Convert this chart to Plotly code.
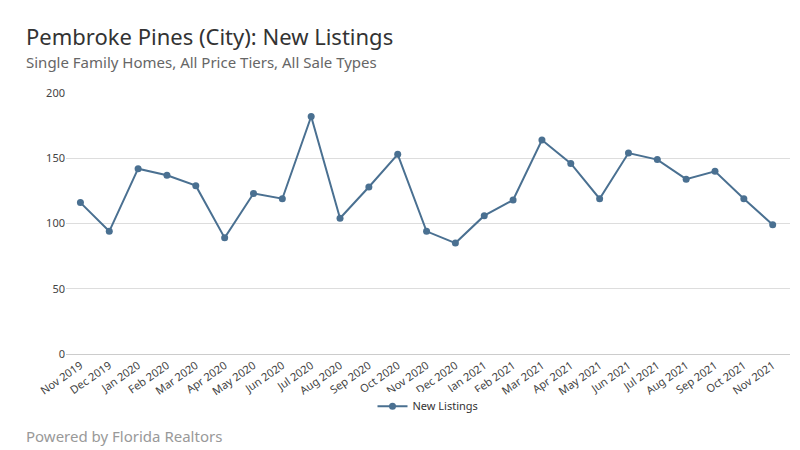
import plotly.graph_objects as go

months = ["Nov 2019","Dec 2019","Jan 2020","Feb 2020","Mar 2020","Apr 2020","May 2020","Jun 2020",
          "Jul 2020","Aug 2020","Sep 2020","Oct 2020","Nov 2020","Dec 2020","Jan 2021","Feb 2021",
          "Mar 2021","Apr 2021","May 2021","Jun 2021","Jul 2021","Aug 2021","Sep 2021","Oct 2021","Nov 2021"]
new_listings = [116,94,142,137,129,89,123,119,182,104,128,153,94,85,106,118,164,146,119,154,149,134,140,119,99]

fig = go.Figure(go.Scatter(x=months, y=new_listings, mode="lines+markers", name="New Listings",
                           line=dict(color="#4a7091", width=2), marker=dict(size=7, color="#4a7091")))
fig.update_layout(
    width=800, height=450, paper_bgcolor="white", plot_bgcolor="white",
    font=dict(family="Noto Sans", color="#555"),
    margin=dict(l=58, r=18, t=85, b=104),
    showlegend=True,
    legend=dict(orientation="h", x=0.5, xanchor="center", y=-0.2, yanchor="middle",
                font=dict(size=11, color="#333")),
)
fig.add_annotation(text="Pembroke Pines (City): New Listings", xref="paper", yref="paper",
                   x=-0.058, y=1.218, xanchor="left", yanchor="middle", showarrow=False,
                   font=dict(size=22, color="#333"))
fig.add_annotation(text="Single Family Homes, All Price Tiers, All Sale Types", xref="paper", yref="paper",
                   x=-0.058, y=1.119, xanchor="left", yanchor="middle", showarrow=False,
                   font=dict(size=15, color="#666"))
fig.add_annotation(text="Powered by Florida Realtors", xref="paper", yref="paper",
                   x=-0.058, y=-0.314, xanchor="left", yanchor="middle", showarrow=False,
                   font=dict(size=15, color="#999"))
fig.update_xaxes(tickangle=-35, tickfont=dict(size=11, color="#444"), showgrid=False,
                 showline=True, linecolor="#ccc", ticks="", range=[-0.5, 24.6])
fig.update_yaxes(range=[0, 200], dtick=50, gridcolor="#ddd", tickfont=dict(size=11, color="#444"),
                 zeroline=False, showline=False)
fig.write_html("out.html")
